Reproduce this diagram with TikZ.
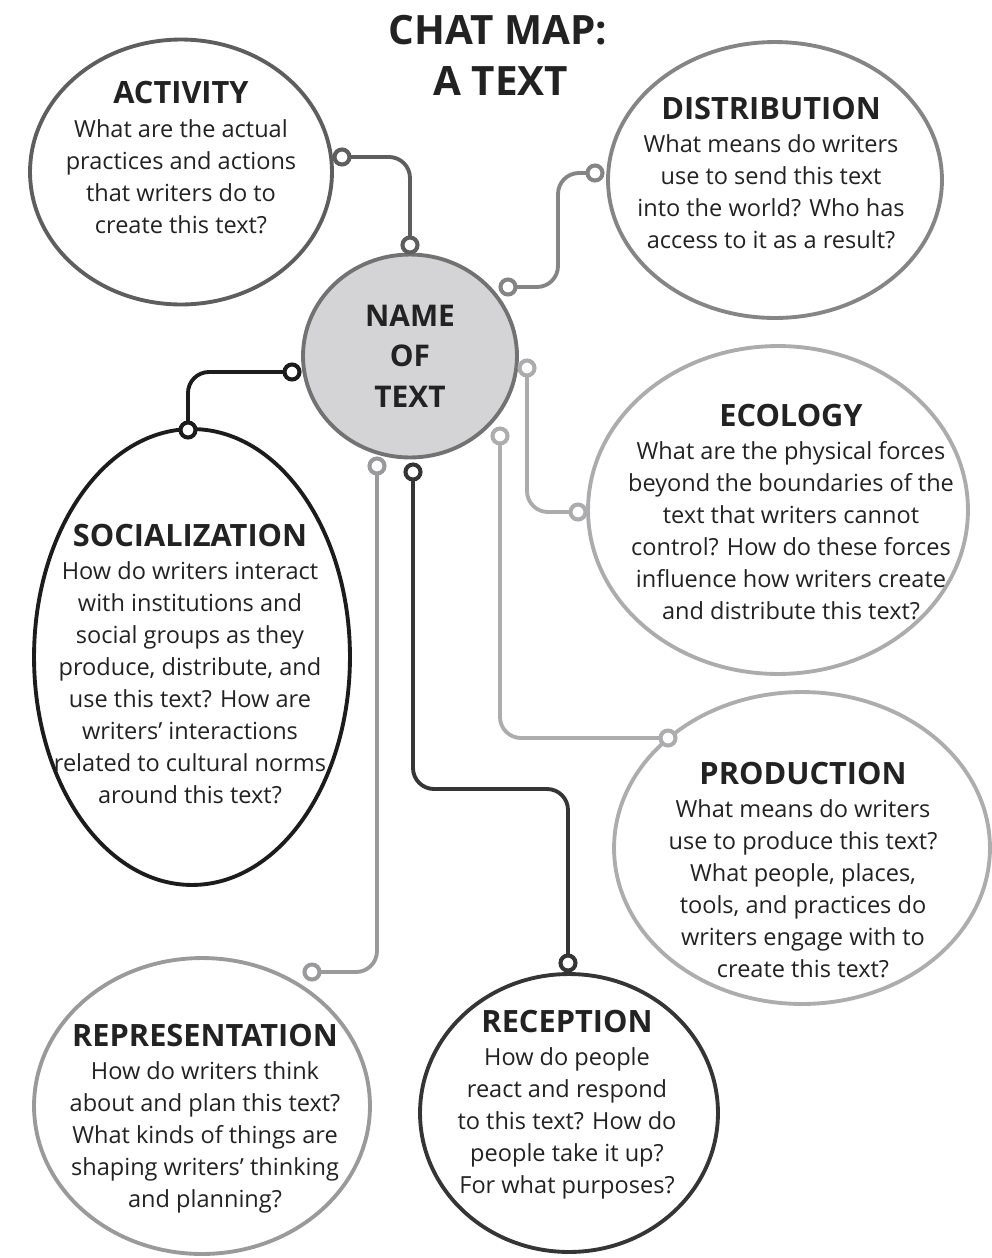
\documentclass[tikz,border=0pt]{standalone}
\usepackage{fontspec}
\setmainfont{Open Sans}
\usetikzlibrary{shapes.geometric,positioning}

% colours
\definecolor{ink}{HTML}{222222}
\definecolor{nameFill}{HTML}{D4D4D6}
\definecolor{nameLine}{HTML}{727272}
\definecolor{actLine}{HTML}{5E5E5E}
\definecolor{distLine}{HTML}{858586}
\definecolor{socLine}{HTML}{1C1C1C}
\definecolor{ecoLine}{HTML}{ACACAE}
\definecolor{prodLine}{HTML}{ADADAF}
\definecolor{reprLine}{HTML}{9A9A9C}
\definecolor{recpLine}{HTML}{353535}

\tikzset{
	bubble/.style={draw, ellipse, line width=2.2pt, inner sep=0pt},
	wire/.style={line width=2.2pt, rounded corners=0.42cm},
	dot/.style={circle, draw, fill=white, line width=2.3pt, minimum size=0.30cm, inner sep=0pt},
	hd/.style={inner sep=0pt, text=ink, font=\fontsize{17.5}{21}\selectfont\bfseries},
	body/.style={inner sep=0pt, align=center, text=ink, font=\fontsize{13.4}{18.2}\selectfont},
}

\begin{document}
\begin{tikzpicture}[x=0.02cm, y=-0.02cm]

	% frame
	\useasboundingbox (0,0) rectangle (991,1258);

	% parameters
	\def\gap{0.29cm}

	% title
	\node[hd, font=\fontsize{23}{28}\selectfont\bfseries] (title1) at (498,30) {CHAT MAP:};
	\node[hd, font=\fontsize{23}{28}\selectfont\bfseries] (title2) at (501,81) {A TEXT};

	% bubbles
	\node[bubble, draw=actLine,  minimum width=6.04cm, minimum height=5.30cm] (act)  at (181,172)  {};
	\node[bubble, draw=distLine, minimum width=6.68cm, minimum height=5.52cm] (dist) at (775,180)  {};
	\node[bubble, draw=nameLine, fill=nameFill, minimum width=4.28cm, minimum height=4.06cm] (name) at (410,356) {};
	\node[bubble, draw=ecoLine,  minimum width=7.60cm, minimum height=6.56cm] (eco)  at (778,510)  {};
	\node[bubble, draw=socLine,  minimum width=6.32cm, minimum height=9.12cm] (soc)  at (192,657)  {};
	\node[bubble, draw=prodLine, minimum width=7.52cm, minimum height=6.24cm] (prod) at (802,848)  {};
	\node[bubble, draw=reprLine, minimum width=6.72cm, minimum height=5.92cm] (repr) at (202,1106) {};
	\node[bubble, draw=recpLine, minimum width=5.96cm, minimum height=5.56cm] (recp) at (569,1113) {};

	% centre label
	\node[body, font=\fontsize{17}{23}\selectfont\bfseries] (name text) at (410,356) {NAME\\OF\\TEXT};

	% headings and questions
	\node[hd] (act hd) at (181,93) {ACTIVITY};
	\node[body, below=\gap of act hd] (act text)
		{What are the actual\\practices and actions\\that writers do to\\create this text?};

	\node[hd] (dist hd) at (771,108) {DISTRIBUTION};
	\node[body, below=\gap of dist hd] (dist text)
		{What means do writers\\use to send this text\\into the world? Who has\\access to it as a result?};

	\node[hd] (eco hd) at (791,415) {ECOLOGY};
	\node[body, below=\gap of eco hd] (eco text)
		{What are the physical forces\\beyond the boundaries of the\\text that writers cannot\\control? How do these forces\\influence how writers create\\and distribute this text?};

	\node[hd] (soc hd) at (190,535) {SOCIALIZATION};
	\node[body, below=\gap of soc hd] (soc text)
		{How do writers interact\\with institutions and\\social groups as they\\produce, distribute, and\\use this text? How are\\writers’ interactions\\related to cultural norms\\around this text?};

	\node[hd] (prod hd) at (803,773) {PRODUCTION};
	\node[body, below=\gap of prod hd] (prod text)
		{What means do writers\\use to produce this text?\\What people, places,\\tools, and practices do\\writers engage with to\\create this text?};

	\node[hd] (repr hd) at (205,1035) {REPRESENTATION};
	\node[body, below=\gap of repr hd] (repr text)
		{How do writers think\\about and plan this text?\\What kinds of things are\\shaping writers’ thinking\\and planning?};

	\node[hd] (recp hd) at (567,1021) {RECEPTION};
	\node[body, below=\gap of recp hd] (recp text)
		{How do people\\react and respond\\to this text? How do\\people take it up?\\For what purposes?};

	% connector ends
	\coordinate (a-act)  at (342,157);  \coordinate (b-act)  at (410,245);
	\coordinate (a-dist) at (595,173);  \coordinate (b-dist) at (508,287);
	\coordinate (a-soc)  at (292,372);  \coordinate (b-soc)  at (188,430);
	\coordinate (a-eco)  at (527,368);  \coordinate (b-eco)  at (578,512);
	\coordinate (a-prod) at (500,436);  \coordinate (b-prod) at (668,738);
	\coordinate (a-recp) at (413,472);  \coordinate (b-recp) at (568,963);
	\coordinate (a-repr) at (377,466);  \coordinate (b-repr) at (312,972);

	% connectors
	\draw[wire, actLine]  (a-act)  -| (b-act);
	\draw[wire, distLine] (a-dist) -- (558,173) |- (b-dist);
	\draw[wire, socLine]  (a-soc)  -| (b-soc);
	\draw[wire, ecoLine]  (a-eco)  |- (b-eco);
	\draw[wire, prodLine] (a-prod) |- (b-prod);
	\draw[wire, recpLine] (a-recp) |- (490,789) -| (b-recp);
	\draw[wire, reprLine] (a-repr) |- (b-repr);

	% connector dots
	\foreach \p/\c in {act/actLine, dist/distLine, soc/socLine, eco/ecoLine,
		prod/prodLine, recp/recpLine, repr/reprLine} {
		\node[dot, draw=\c] (dot a-\p) at (a-\p) {};
		\node[dot, draw=\c] (dot b-\p) at (b-\p) {};
	}

\end{tikzpicture}
\end{document}
